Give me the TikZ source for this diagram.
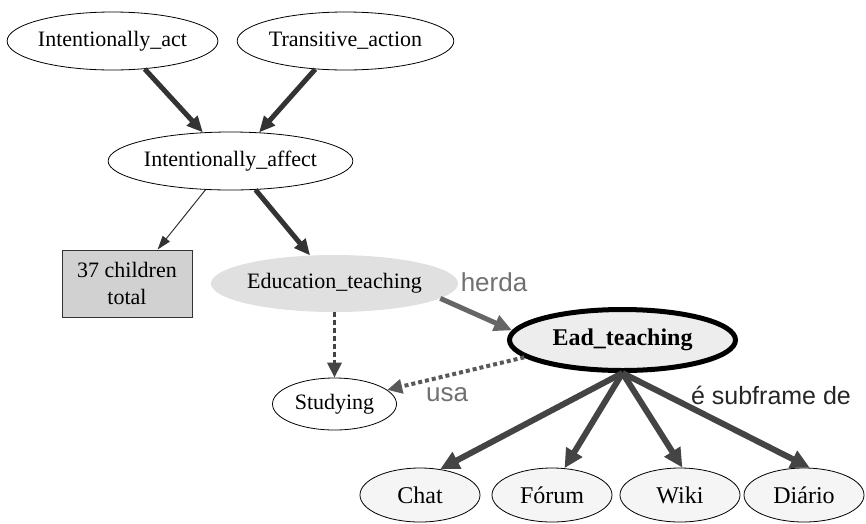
\documentclass[tikz,border=0pt]{standalone}
\usepackage{fontspec}
\setmainfont{Liberation Serif}
\setsansfont{Liberation Sans}
\usetikzlibrary{shapes.geometric,arrows.meta}
\definecolor{edgedark}{HTML}{333333}
\definecolor{edgemid}{HTML}{444444}
\definecolor{edgegray}{HTML}{666666}
\definecolor{labelgray}{HTML}{707070}
\tikzset{
  frame/.style={ellipse, draw=black, line width=0.8pt, inner sep=0pt,
    font=\fontsize{22}{26}\selectfont},
  small/.style={frame, minimum width=120pt, minimum height=54pt, fill=black!4,
    font=\fontsize{24}{28}\selectfont},
  heavy/.style={line width=5pt, edgedark, -{Triangle[length=16pt,width=14pt]}},
  light/.style={line width=1pt, edgedark, -{Triangle[length=14pt,width=9pt]}},
  sub/.style={line width=6pt, edgemid, -{Triangle[length=19pt,width=18pt]}},
  lbl/.style={font=\sffamily\fontsize{26}{30}\selectfont, inner sep=0pt},
}
\begin{document}
\begin{tikzpicture}[x=1pt, y=-1pt]
\useasboundingbox (0,0) rectangle (866,523);

% FrameNet frames
\node[frame, minimum width=200pt, minimum height=58pt] (iact) at (112.5,41) {Intentionally\_act};
\node[frame, minimum width=202pt, minimum height=58pt] (trans) at (345.5,41) {Transitive\_action};
\node[frame, minimum width=224pt, minimum height=58pt] (iaff) at (230.5,161) {Intentionally\_affect};
\node[draw=edgedark, line width=0.8pt, fill=black!18, minimum width=130pt, minimum height=67pt,
  align=center, inner sep=0pt, font=\fontsize{22}{27}\selectfont] (kids) at (127,283.5) {37 children\\total};
\node[ellipse, fill=black!12, minimum width=225pt, minimum height=57pt, inner sep=0pt,
  font=\fontsize{22}{26}\selectfont] (edu) at (334.5,283.5) {Education\_teaching};
\node[frame, minimum width=124pt, minimum height=52pt] (stud) at (334.5,404) {Studying};

% New frame and its subframes
\node[ellipse, draw=black, line width=5pt, fill=black!7, minimum width=226pt, minimum height=61pt,
  inner sep=0pt, font=\bfseries\fontsize{24}{28}\selectfont] (ead) at (622.5,340) {Ead\_teaching};
\node[small] (chat) at (420,495) {Chat};
\node[small] (forum) at (552,495) {Fórum};
\node[small] (wiki) at (680,495) {Wiki};
\node[small] (diario) at (804,495) {Diário};

% Relations
\draw[heavy] (iact.-41) -- (iaff.134);
\draw[heavy] (trans.223) -- (iaff.45);
\draw[light] (iaff.229) -- (kids.48);
\draw[heavy] (iaff.311) -- (edu.131);
\draw[line width=3.5pt, edgemid, dash pattern=on 5pt off 3pt,
  -{Triangle[length=15pt,width=14pt]}] (edu.south) -- (stud.north);
\draw[line width=5pt, edgegray, -{Triangle[length=18pt,width=16pt]}] (edu.-8) -- (ead.175);
\draw[line width=4pt, black!65, dash pattern=on 4pt off 3pt,
  -{Triangle[length=15pt,width=14pt]}] (ead.190) -- (stud.15);
\draw[sub] (ead.south) -- (chat.52);
\draw[sub] (ead.south) -- (forum.65);
\draw[sub] (ead.south) -- (wiki.85);
\draw[sub] (ead.south) -- (diario.78);

% Relation names
\node[lbl, text=labelgray] (herda) at (494,282) {herda};
\node[lbl, text=labelgray] (usa) at (447,395) {usa};
\node[lbl, text=black!85, font=\sffamily\fontsize{25}{30}\selectfont] (subof) at (771,395) {é subframe de};
\end{tikzpicture}
\end{document}
